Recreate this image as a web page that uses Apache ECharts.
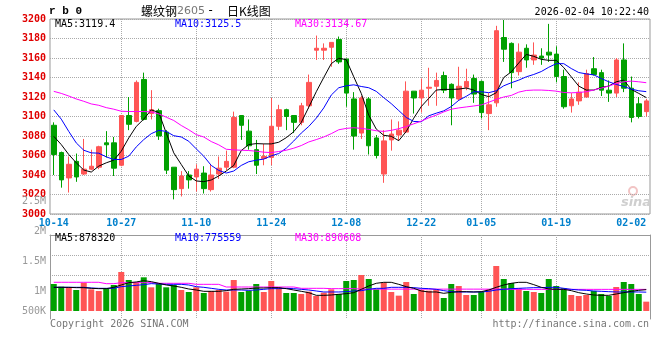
<!DOCTYPE html>
<html><head><meta charset="utf-8">
<script src="https://cdn.jsdelivr.net/npm/echarts@6/dist/echarts.min.js"></script>
<style>html,body{margin:0;padding:0;background:#fff}#c{width:660px;height:360px}</style>
</head><body><div id="c"></div>
<script>
// ---------- data ----------
const dates = ['10-14','10-15','10-16','10-17','10-20','10-21','10-22','10-23','10-24','10-27','10-28','10-29','10-30','10-31',
'11-03','11-04','11-05','11-06','11-07','11-10','11-11','11-12','11-13','11-14','11-17','11-18','11-19','11-20','11-21','11-24','11-25','11-26','11-27','11-28',
'12-01','12-02','12-03','12-04','12-05','12-08','12-09','12-10','12-11','12-12','12-15','12-16','12-17','12-18','12-19','12-22','12-23','12-24','12-25','12-26','12-29','12-30','12-31',
'01-05','01-06','01-07','01-08','01-09','01-12','01-13','01-14','01-15','01-16','01-19','01-20','01-21','01-22','01-23','01-26','01-27','01-28','01-29','01-30',
'02-02','02-03','02-04'];
const open  = [3091,3063,3037,3054,3041,3046,3048,3073,3073,3050, 3101,3095,3138,3103,3106,3084,3048,3026,3040,3038, 3042,3025,3041,3048,3048,3101,3085,3066,3057,3058, 3090,3107,3101,3094,3111,3168,3168,3171,3179,3159, 3118,3083,3118,3078,3041,3076,3081,3084,3126,3119, 3129,3131,3142,3133,3118,3130,3139,3136,3103,3114, 3181,3175,3146,3170,3158,3162,3166,3164,3141,3111, 3116,3120,3149,3145,3127,3124,3158,3129,3113,3105];
const close = [3061,3035,3051,3038,3046,3049,3069,3071,3047,3101, 3092,3135,3097,3107,3080,3045,3025,3039,3035,3046, 3026,3040,3047,3054,3099,3091,3070,3050,3059,3090, 3107,3100,3094,3111,3135,3170,3170,3176,3156,3124, 3080,3119,3070,3060,3075,3082,3086,3126,3119,3127, 3130,3137,3127,3119,3131,3136,3123,3104,3112,3188, 3169,3145,3166,3158,3163,3160,3163,3141,3110,3118, 3125,3144,3143,3127,3124,3158,3129,3099,3100,3116];
const high  = [3094,3064,3059,3062,3077,3066,3070,3085,3079,3101, 3120,3137,3145,3127,3108,3086,3048,3044,3044,3051, 3049,3051,3059,3065,3105,3101,3097,3076,3072,3119, 3112,3108,3101,3114,3143,3183,3175,3176,3182,3159, 3125,3121,3120,3081,3086,3097,3095,3136,3126,3139, 3150,3145,3146,3134,3151,3149,3143,3137,3124,3193, 3199,3176,3175,3174,3176,3170,3195,3172,3148,3124, 3135,3148,3161,3148,3137,3160,3175,3141,3120,3118];
const low   = [3040,3027,3022,3033,3040,3045,3046,3058,3039,3049, 3086,3094,3096,3097,3076,3041,3015,3018,3026,3023, 3021,3023,3036,3045,3047,3076,3066,3041,3050,3050, 3086,3086,3083,3091,3108,3158,3158,3151,3154,3110, 3066,3077,3061,3057,3032,3065,3075,3083,3103,3104, 3111,3111,3124,3091,3116,3127,3114,3098,3086,3110, 3156,3129,3142,3150,3153,3153,3156,3135,3108,3104, 3112,3119,3142,3121,3115,3120,3125,3094,3098,3100];
const ma5  = [3079.7,3071.2,3061.0,3052.5,3045.1,3043.0,3049.1,3052.5,3055.2,3064.4,3078.0,3089.8,3097.3,3106.8,3104.1,3083.0,3062.7,3050.8,3039.0,3033.9,
3033.2,3034.9,3039.0,3044.1,3049.8,3065.1,3071.2,3072.2,3071.9,3071.9,3073.6,3078.3,3084.4,3093.9,3109.5,3125.4,3140.0,3154.2,3159.7,3158.3,3140.7,
3123.7,3101.4,3087.1,3080.7,3079.7,3075.2,3084.7,3098.3,3110.2,3118.6,3127.1,3127.8,3127.8,3128.1,3129.2,3127.1,3122.7,3120.3,3124.4,3140.0,
3145.8,3154.9,3163.7,3161.7,3158.6,3157.6,3157.6,3150.2,3140.7,3131.2,3127.1,3127.1,3129.8,3131.2,3135.6,3137.3,3127.8,3123.7,3119.4];
const ma10 = [3106.8,3097.3,3084.7,3072.9,3065.4,3062.7,3062.4,3058.6,3055.9,3055.9,3059.3,3068.8,3076.3,3082.4,3085.8,3084.7,3080.3,3079.0,3074.6,3066.8,
3059.3,3049.8,3044.7,3042.0,3044.1,3049.8,3053.6,3055.2,3056.3,3059.7,3062.0,3067.5,3074.9,3083.0,3089.8,3098.3,3108.8,3122.0,3129.5,3131.5,3132.5,
3130.8,3129.5,3125.8,3119.3,3113.2,3106.1,3099.0,3094.9,3094.6,3100.7,3103.4,3105.8,3110.2,3116.6,3120.7,3125.4,3125.4,3124.4,3126.4,3131.5,
3134.6,3137.3,3140.7,3143.1,3146.1,3150.5,3154.2,3154.2,3149.2,3145.1,3143.7,3142.7,3139.0,3135.6,3132.9,3130.8,3128.1,3126.4,3125.5];
const ma30 = [3125.8,3123.7,3121.0,3118.0,3115.6,3112.9,3111.5,3109.1,3107.5,3105.4,3105.1,3105.1,3105.1,3104.7,3102.7,3099.3,3095.9,3090.8,3086.4,3081.4,
3079.0,3074.3,3070.9,3066.4,3065.8,3065.4,3065.1,3064.4,3063.4,3063.0,3064.1,3065.4,3067.5,3070.2,3073.9,3076.3,3079.0,3082.4,3086.4,3087.8,3088.5,
3087.8,3086.8,3085.4,3084.7,3085.8,3087.5,3089.8,3092.5,3095.3,3098.6,3101.4,3104.7,3107.5,3108.8,3109.8,3110.8,3111.9,3114.6,3117.6,3120.0,
3121.6,3125.0,3126.7,3127.1,3127.1,3126.7,3126.0,3124.6,3124.3,3124.6,3125.4,3127.1,3129.2,3131.2,3133.9,3135.6,3136.3,3135.6,3134.67];
const volume = [1112000,1002000,975000,865000,1167000,892000,824000,934000,1071000,1606000,
1277000,1181000,1387000,975000,1140000,975000,1071000,865000,783000,975000,
741000,824000,865000,796000,1277000,783000,838000,1112000,783000,1236000,
975000,741000,741000,700000,796000,618000,755000,892000,700000,1236000,
1277000,1483000,1318000,892000,1167000,783000,632000,1195000,700000,865000,
838000,892000,535000,1112000,1030000,659000,659000,783000,892000,1854000,
1318000,1153000,934000,824000,783000,741000,1318000,1030000,934000,659000,
618000,659000,824000,700000,618000,989000,1195000,1112000,700000,384000];
const volMa5 = [975000,975000,975000,961000,961000,934000,920000,920000,975000,1071000,1167000,1195000,1249000,1208000,1140000,1071000,1030000,975000,906000,865000,
810000,810000,810000,838000,892000,906000,920000,947000,947000,961000,961000,920000,865000,810000,755000,645000,645000,
659000,687000,714000,755000,892000,1030000,1140000,1181000,1181000,1098000,1002000,934000,824000,783000,783000,728000,769000,796000,796000,783000,
796000,865000,975000,1071000,1140000,1181000,1181000,1085000,975000,906000,892000,892000,838000,755000,700000,659000,645000,645000,700000,755000,810000,851000,878320];
const volMa10 = [975000,975000,975000,975000,975000,947000,934000,934000,934000,1002000,1030000,1057000,1085000,1126000,1112000,1098000,1098000,1098000,1071000,1002000,
975000,934000,892000,865000,865000,865000,851000,865000,892000,920000,920000,934000,920000,892000,865000,824000,783000,
783000,783000,796000,824000,838000,892000,934000,934000,975000,975000,975000,961000,934000,920000,892000,838000,796000,783000,783000,783000,
783000,810000,865000,892000,920000,934000,947000,961000,961000,975000,975000,934000,892000,865000,851000,824000,810000,796000,783000,783000,783000,783000,775559];
const volMa30 = [1182000,1182000,1182000,1182000,1182000,1182000,1182000,1125000,1125000,1167000,1167000,1167000,1167000,1167000,1140000,1140000,1140000,1140000,1140000,1098000,
1098000,1098000,1098000,988000,988000,988000,988000,988000,988000,988000,988000,988000,988000,934000,934000,934000,934000,
920000,920000,920000,920000,900000,900000,900000,900000,900000,900000,900000,900000,900000,900000,900000,900000,900000,900000,900000,900000,
900000,900000,900000,900000,890608,890608,890608,890608,890608,890608,890608,890608,890608,890608,890608,890608,890608,890608,890608,890608,890608,890608,890608];
const priceMin = 3000, priceMax = 3200, priceStep = 20;
const xTickDates = ['10-14','10-27','11-10','11-24','12-08','12-22','01-05','01-19','02-02'];
const xGridDates = ['10-27','11-10','11-24','12-08','12-22','01-05','01-19'];
const volTickValues = [500000,1000000,1500000,2000000,2500000];
const volTickText = ['500K','1M','1.5M','2M','2.5M'];
const volGridValues = [1460000, 2290000];
const volAxisMin = -330000, volAxisMax = 3130000;
const legendPrice = ['MA5:3119.4','MA10:3125.5','MA30:3134.67'];
const legendVol = ['MA5:878320','MA10:775559','MA30:890608'];

// ---------- styles ----------
const RED = '#ff5555', GREEN = '#00a000';
const MONO = '"DejaVu Sans Mono", monospace';
const GRID_LINE = {color:'#aaaaaa', type:'dotted', width:1};
const BORDER = '#999999';
const tickIdx = new Set(xTickDates.map(d => dates.indexOf(d)));
const gridIdxList = xGridDates.map(d => dates.indexOf(d));
const isUp = i => close[i] >= open[i];

// vertical grid line pieces drawn as a custom series (one element per category)
function vGridSeries(axisIdx, topVal, botVal) {
  return {type:'custom', coordinateSystem:'cartesian2d', xAxisIndex:axisIdx, yAxisIndex:axisIdx, z:1, silent:true,
    encode:{x:0, y:1},
    data: gridIdxList.map(i => [i, topVal, botVal]),
    renderItem: function (params, api) {
      const p0 = api.coord([api.value(0), api.value(1)]);
      const p1 = api.coord([api.value(0), api.value(2)]);
      const x = Math.round(p0[0]) + 0.5;
      return {type:'line', shape:{x1:x, y1:p0[1], x2:x, y2:p1[1]},
        style:{stroke:'#aaaaaa', lineWidth:1, lineDash:[1,1]}};
    }};
}

const chart = echarts.init(document.getElementById('c'), null, {renderer:'canvas'});
const catAxisBase = {type:'category', data: dates, boundaryGap: true, axisTick:{show:false}, splitLine:{show:false}};
const option = {
  animation: false,
  backgroundColor: '#fff',
  grid: [
    {left:50, top:19, width:600, height:195, show:true, borderColor:BORDER, borderWidth:1, backgroundColor:'transparent'},
    {left:50, top:235, width:600, height:84},
    {left:50, top:201, width:600, height:120}
  ],
  xAxis: [
    Object.assign({}, catAxisBase, {gridIndex:0, axisLine:{show:false},
      axisLabel:{interval:(i)=>tickIdx.has(i), color:'#0080cc', fontFamily:MONO, fontSize:10, fontWeight:'bold', margin:4}}),
    Object.assign({}, catAxisBase, {gridIndex:1, position:'top', axisLine:{show:true, onZero:false, lineStyle:{color:BORDER}},
      axisLabel:{show:false}}),
    Object.assign({}, catAxisBase, {gridIndex:2, show:false})
  ],
  yAxis: [
    {type:'value', gridIndex:0, min:priceMin, max:priceMax, interval:priceStep, axisLine:{show:false}, axisTick:{show:false},
     axisLabel:{color:'#e00000', fontFamily:MONO, fontSize:10, fontWeight:'bold', margin:4, showMinLabel:true, showMaxLabel:true,
       formatter:(v)=>String(v)},
     splitLine:{show:true, lineStyle:GRID_LINE}},
    {type:'value', gridIndex:1, min:volAxisMin, max:volAxisMax, axisLine:{show:true, lineStyle:{color:BORDER}}, axisTick:{show:false},
     axisLabel:{show:false}, splitLine:{show:false}},
    {type:'value', gridIndex:1, position:'right', min:0, max:1, axisLine:{show:true, lineStyle:{color:BORDER}}, axisTick:{show:false},
     axisLabel:{show:false}, splitLine:{show:false}},
    {type:'value', gridIndex:2, min:volTickValues[0], max:volTickValues[volTickValues.length-1], interval:volTickValues[1]-volTickValues[0],
     axisLine:{show:false}, axisTick:{show:false}, splitLine:{show:false},
     axisLabel:{color:'#999999', fontFamily:MONO, fontSize:10, margin:4, showMinLabel:true, showMaxLabel:true,
       formatter:(v)=>{const k = volTickValues.indexOf(v); const t = k>=0 ? volTickText[k] : ''; return k===0 ? '{s|'+t+'}' : t;},
       rich:{s:{color:'#999999', fontFamily:MONO, fontSize:10, padding:[0,0,20,0]}}}}
  ],
  series: [
    vGridSeries(0, priceMax, priceMin),
    {type:'candlestick', xAxisIndex:0, yAxisIndex:0, barWidth:5, z:2,
     data: dates.map((d,i)=>[open[i], close[i], low[i], high[i]]),
     itemStyle:{color:RED, color0:GREEN, borderColor:RED, borderColor0:GREEN, borderWidth:1}},
    {type:'line', xAxisIndex:0, yAxisIndex:0, data:ma5, symbol:'none', lineStyle:{color:'#000000', width:1}, z:3},
    {type:'line', xAxisIndex:0, yAxisIndex:0, data:ma10, symbol:'none', lineStyle:{color:'#0000ff', width:1}, z:3},
    {type:'line', xAxisIndex:0, yAxisIndex:0, data:ma30, symbol:'none', lineStyle:{color:'#ff00ff', width:1}, z:3},
    vGridSeries(1, volAxisMax, volAxisMin),
    {type:'bar', xAxisIndex:1, yAxisIndex:1, barWidth:6, data:volume, z:2,
     itemStyle:{color:(p)=> isUp(p.dataIndex) ? RED : GREEN},
     markLine:{silent:true, z:0, symbol:'none', label:{show:false}, lineStyle:GRID_LINE,
       data: volGridValues.map(v=>({yAxis:v}))}},
    {type:'line', xAxisIndex:1, yAxisIndex:1, data:volMa30, symbol:'none', lineStyle:{color:'#ff00ff', width:1}, z:3},
    {type:'line', xAxisIndex:1, yAxisIndex:1, data:volMa10, symbol:'none', lineStyle:{color:'#0000ff', width:1}, z:3},
    {type:'line', xAxisIndex:1, yAxisIndex:1, data:volMa5, symbol:'none', lineStyle:{color:'#000000', width:1}, z:3}
  ],
  graphic: [
    {type:'text', x:49, y:11, style:{text:'r b 0', font:'bold 11px "Liberation Mono"', fill:'#000', textVerticalAlign:'middle'}},
    {type:'text', x:141, y:11, style:{text:'螺纹钢', font:'12px "Noto Sans CJK SC"', fill:'#000', textVerticalAlign:'middle'}},
    {type:'text', x:177, y:11, style:{text:'2605', font:'11px "DejaVu Sans"', fill:'#777', textVerticalAlign:'middle'}},
    {type:'text', x:207, y:11, style:{text:'-', font:'12px "DejaVu Sans Mono"', fill:'#000', textVerticalAlign:'middle'}},
    {type:'text', x:227, y:11, style:{text:'日K线图', font:'12px "Noto Sans CJK SC"', fill:'#000', textVerticalAlign:'middle'}},
    {type:'text', x:649, y:12, style:{text:'2026-02-04 10:22:40', font:'10px '+MONO, fill:'#000', textAlign:'right', textVerticalAlign:'middle'}},
    {type:'text', x:55, y:24, z:10, style:{text:legendPrice[0], font:'10px '+MONO, fill:'#000', textVerticalAlign:'middle'}},
    {type:'text', x:175, y:24, z:10, style:{text:legendPrice[1], font:'10px '+MONO, fill:'#0000ff', textVerticalAlign:'middle'}},
    {type:'text', x:295, y:24, z:10, style:{text:legendPrice[2], font:'10px '+MONO, fill:'#ff00ff', textVerticalAlign:'middle'}},
    {type:'text', x:55, y:238, z:10, style:{text:legendVol[0], font:'10px '+MONO, fill:'#000', textVerticalAlign:'middle'}},
    {type:'text', x:175, y:238, z:10, style:{text:legendVol[1], font:'10px '+MONO, fill:'#0000ff', textVerticalAlign:'middle'}},
    {type:'text', x:295, y:238, z:10, style:{text:legendVol[2], font:'10px '+MONO, fill:'#ff00ff', textVerticalAlign:'middle'}},
    {type:'text', x:50, y:324, style:{text:'Copyright 2026 SINA.COM', font:'10px '+MONO, fill:'#777', textVerticalAlign:'middle'}},
    {type:'text', x:649, y:324, style:{text:'http://finance.sina.com.cn', font:'10px '+MONO, fill:'#777', textAlign:'right', textVerticalAlign:'middle'}},
    {type:'circle', shape:{cx:633, cy:191, r:4}, style:{fill:'none', stroke:'#f2c4c4', lineWidth:2}},
    {type:'text', x:636, y:203, style:{text:'sina', font:'italic bold 13px "DejaVu Sans"', fill:'#cfcfcf', textAlign:'center', textVerticalAlign:'middle'}}
  ]
};
chart.setOption(option);
</script></body></html>
